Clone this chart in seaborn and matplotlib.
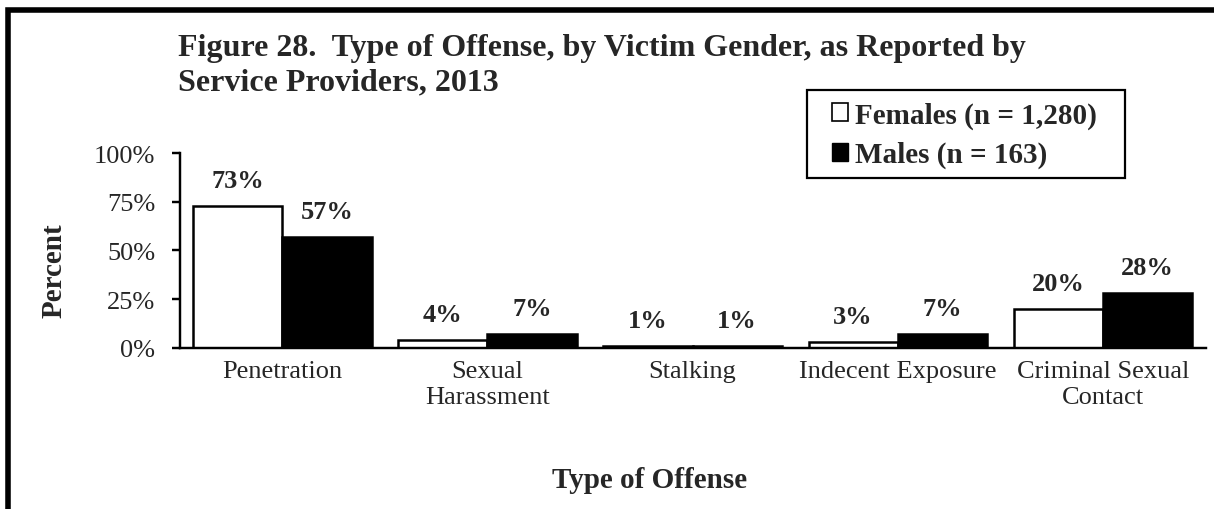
import matplotlib
matplotlib.use("Agg")
import matplotlib.pyplot as plt
import pandas as pd
import seaborn as sns
from matplotlib.patches import Patch, Rectangle

offenses = ["Penetration", "Sexual\nHarassment", "Stalking", "Indecent Exposure", "Criminal Sexual\nContact"]
females = [73, 4, 1, 3, 20]
males = [57, 7, 1, 7, 28]
groups = ["Females (n = 1,280)", "Males (n = 163)"]

df = pd.DataFrame({
    "offense": offenses * 2,
    "gender": [groups[0]] * len(offenses) + [groups[1]] * len(offenses),
    "pct": females + males,
})

sns.set_style("white")
plt.rcParams["font.family"] = ["Liberation Serif", "DejaVu Serif"]

fig = plt.figure(figsize=(12.14, 5.10), dpi=100)
ax = fig.add_axes([0.148, 0.316, 0.845, 0.382])

sns.barplot(data=df, x="offense", y="pct", hue="gender", order=offenses,
            palette=["white", "black"], edgecolor="black", linewidth=1.8,
            width=0.87, ax=ax, legend=False)

for cont in ax.containers:
    ax.bar_label(cont, labels=[f"{v:.0f}%" for v in cont.datavalues],
                 padding=10, fontsize=19, fontweight="bold")

ax.set_ylim(0, 100)
ax.set_xlim(-0.5, len(offenses) - 0.5)
ax.set_yticks([0, 25, 50, 75, 100])
ax.set_yticklabels([f"{t}%" for t in [0, 25, 50, 75, 100]], fontsize=19)
# group boundaries get the tick marks, group centres get the labels
ax.set_xticks([i - 0.5 for i in range(len(offenses) + 1)])
ax.set_xticklabels([])
ax.set_xticks(range(len(offenses)), minor=True)
ax.set_xticklabels(offenses, minor=True, fontsize=19, linespacing=1.22)
ax.tick_params(axis="x", which="major", direction="out", length=5.5, width=1.75, color="black")
ax.tick_params(axis="x", which="minor", length=0, pad=9)
ax.tick_params(axis="y", direction="out", length=5.5, width=1.75, color="black", pad=12, left=True)
for s in ["top", "right"]:
    ax.spines[s].set_visible(False)
for s in ["left", "bottom"]:
    ax.spines[s].set_color("black")
    ax.spines[s].set_linewidth(1.75)

ax.set_ylabel("")
ax.set_xlabel("")
fig.text(0.0445, 0.47, "Percent", fontsize=21, fontweight="bold", rotation=90, ha="center", va="center")
fig.text(0.535, 0.058, "Type of Offense", fontsize=21, fontweight="bold", ha="center", va="center")

fig.text(0.1466, 0.872, "Figure 28.  Type of Offense, by Victim Gender, as Reported by\nService Providers, 2013",
         fontsize=23, fontweight="bold", ha="left", va="center", linespacing=1.25)

handles = [Patch(facecolor="white", edgecolor="black", linewidth=1.2),
           Patch(facecolor="black", edgecolor="black")]
leg = fig.legend(handles, groups, loc="upper left", bbox_to_anchor=(0.6853, 0.799),
                 frameon=False,
                 prop={"family": ["Liberation Serif"], "weight": "bold", "size": 21},
                 handlelength=0.55, handleheight=0.55, handletextpad=0.24,
                 labelspacing=0.42, borderpad=0, borderaxespad=0)

# legend box and the page frame (top and left edges only)
fig.patches.append(Rectangle((0.6647, 0.649), 0.262, 0.1725, transform=fig.transFigure,
                             fill=False, edgecolor="black", linewidth=1.6))
fig.patches.append(Rectangle((0.007, -0.1), 1.2, 1.0775, transform=fig.transFigure,
                             fill=False, edgecolor="black", linewidth=4))

fig.savefig("out.png", dpi=100)
